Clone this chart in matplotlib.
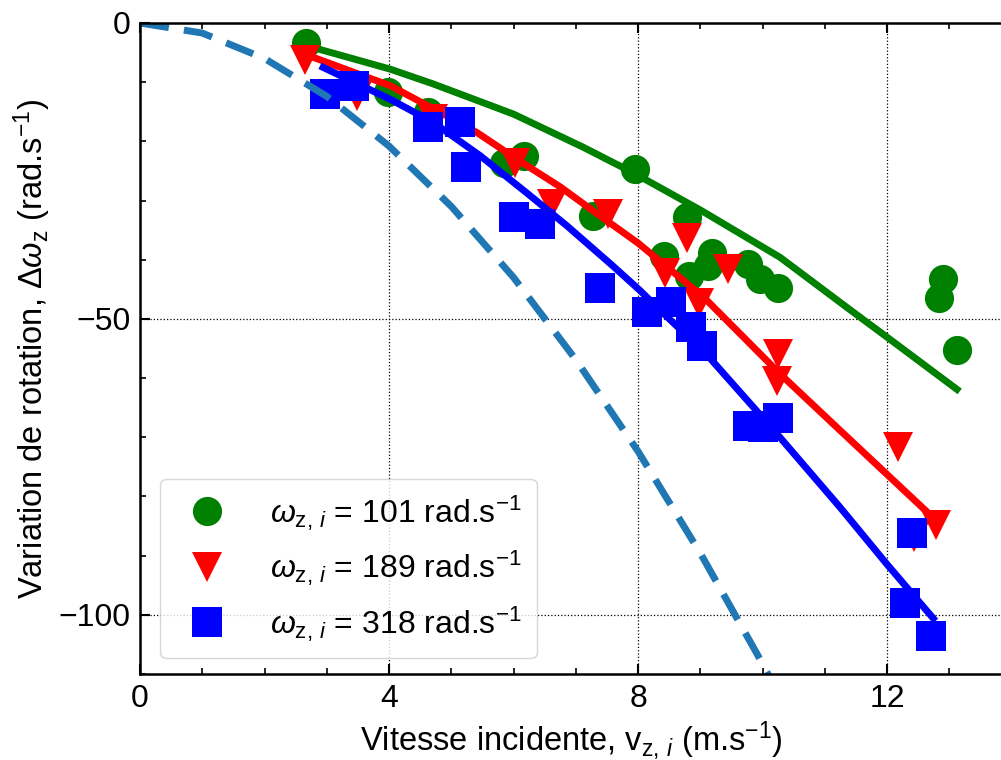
import numpy as np
import matplotlib
matplotlib.use("Agg")
from matplotlib import pyplot as plt
from matplotlib.ticker import MultipleLocator

plt.rcParams['font.family'] = ['Liberation Sans', 'DejaVu Sans']
plt.rcParams['mathtext.fontset'] = 'custom'
plt.rcParams['mathtext.rm'] = 'Liberation Sans'
plt.rcParams['mathtext.it'] = 'Liberation Sans:italic'
plt.rcParams['mathtext.bf'] = 'Liberation Sans:bold'

# measured points, omega_i = 101 rad/s
v_101 = [2.67, 3.99, 4.63, 5.84, 6.16, 7.28, 7.95, 8.78, 8.41, 9.18, 8.81, 9.13,
         9.77, 9.96, 10.25, 12.90, 12.83, 13.12]
dw_101 = [-3.3, -11.7, -15.1, -23.6, -22.4, -32.6, -24.6, -32.7, -39.4, -38.8,
          -42.8, -41.1, -40.8, -43.3, -44.7, -43.3, -46.4, -55.2]

# measured points, omega_i = 189 rad/s
v_189 = [2.65, 3.48, 4.71, 6.02, 6.61, 7.52, 8.78, 8.43, 9.45, 8.97, 10.25,
         10.23, 12.17, 12.43, 12.78]
dw_189 = [-6.2, -12.3, -16.2, -23.6, -30.6, -32.3, -36.3, -42.2, -41.6, -47.3,
          -56.0, -60.5, -71.6, -86.9, -84.8]

# measured points, omega_i = 318 rad/s
v_318 = [2.97, 3.43, 4.63, 5.14, 5.24, 6.00, 6.43, 7.38, 8.15, 8.52, 8.85,
         9.03, 9.77, 10.01, 10.25, 12.40, 12.28, 12.70]
dw_318 = [-12.0, -10.6, -17.6, -16.8, -24.3, -32.8, -34.0, -44.7, -48.8,
          -47.2, -51.4, -54.5, -68.1, -68.2, -66.7, -86.2, -98.0, -103.6]

# model curves
fit_v_101 = [2.73, 4.02, 4.71, 6.00, 7.12, 7.92, 9.00, 10.28, 11.46, 12.00, 13.12]
fit_dw_101 = [-4.0, -7.8, -10.3, -15.4, -21.0, -25.3, -31.6, -39.6, -48.9, -53.1, -61.9]

fit_v_189 = [2.73, 4.02, 4.82, 5.41, 6.05, 6.75, 7.39, 8.00, 9.05, 10.28, 11.24,
             12.00, 12.74]
fit_dw_189 = [-5.6, -10.6, -15.1, -18.5, -23.0, -27.7, -32.6, -37.2, -46.3, -59.3,
              -68.8, -76.3, -83.6]

fit_v_318 = [2.94, 4.02, 4.71, 5.46, 6.21, 6.86, 7.60, 8.03, 8.46, 9.10, 10.17,
             11.24, 12.00, 12.74]
fit_dw_318 = [-7.5, -12.9, -16.8, -22.4, -28.7, -34.3, -41.1, -45.2, -49.6, -56.0,
              -68.7, -81.8, -91.5, -100.6]

# dashed reference curve
ref_v = [0, 1, 2, 3, 4, 5, 6, 7, 8, 9, 10, 11]
ref_dw = [0, -1.7, -6.0, -12.4, -20.8, -31.0, -43.0, -56.9, -72.4, -89.6,
          -108.3, -128.6]

labels = [r'$\omega_{\mathrm{z},\,i}$ = 101 rad.s$^{-1}$',
          r'$\omega_{\mathrm{z},\,i}$ = 189 rad.s$^{-1}$',
          r'$\omega_{\mathrm{z},\,i}$ = 318 rad.s$^{-1}$']

fig = plt.figure(figsize=(10.01, 7.6), dpi=100)
ax = fig.add_axes([140 / 1001, 86 / 760, 863 / 1001, 651 / 760])

ms = 21
lw = 5.0
h1, = ax.plot(v_101, dw_101, 'o', color='green', ms=ms, mew=0, label=labels[0])
ax.plot(fit_v_101, fit_dw_101, '-', color='green', lw=lw)
h2, = ax.plot(v_189, dw_189, 'v', color='red', ms=ms, mew=0, label=labels[1])
ax.plot(fit_v_189, fit_dw_189, '-', color='red', lw=lw)
h3, = ax.plot(v_318, dw_318, 's', color='blue', ms=ms, mew=0, label=labels[2])
ax.plot(fit_v_318, fit_dw_318, '-', color='blue', lw=lw)
ax.plot(ref_v, ref_dw, '--', color='#1f77b4', lw=5, dashes=(4.2, 2.2))

ax.set_xlim(0, 13.86)
ax.set_ylim(-110, 0)

ax.xaxis.set_major_locator(MultipleLocator(4))
ax.xaxis.set_minor_locator(MultipleLocator(1))
ax.yaxis.set_major_locator(MultipleLocator(50))
ax.yaxis.set_minor_locator(MultipleLocator(10))

ax.tick_params(which='both', direction='in', top=True, right=False,
               labelsize=23, pad=7)
ax.tick_params(which='major', length=7, width=1.5)
ax.tick_params(which='minor', length=4, width=1.2)
for s in ax.spines.values():
    s.set_linewidth(1.8)

ax.grid(True, which='major', ls=':', color='black', lw=0.9)

ax.set_xlabel(r'Vitesse incidente, v$_{\mathrm{z},\,i}$ (m.s$^{-1}$)', fontsize=23.5, labelpad=4)
ax.set_ylabel(r'Variation de rotation, $\Delta\omega_\mathrm{z}$ (rad.s$^{-1}$)', fontsize=23.5, labelpad=4)

ax.legend(handles=[h1, h2, h3], loc='lower left', fontsize=23,
          handletextpad=1.0, borderpad=0.45, labelspacing=0.5,
          bbox_to_anchor=(0.005, 0.0))

fig.savefig('out.png', dpi=100)
